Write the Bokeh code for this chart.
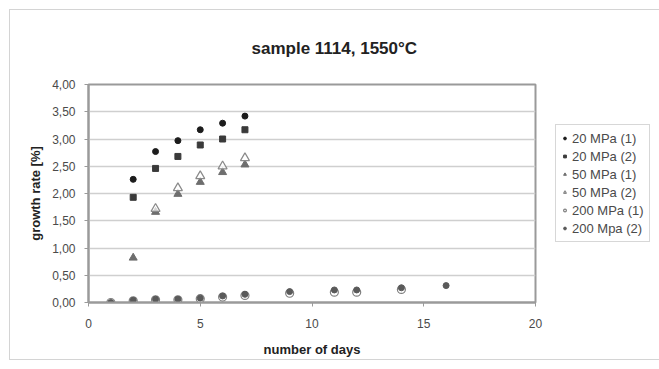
from bokeh.plotting import figure
from bokeh.models import Legend, LegendItem, FixedTicker, Title
from bokeh.embed import file_html
from bokeh.resources import INLINE

# ---- data ----
days_20_1 = [2, 3, 4, 5, 6, 7]
rate_20_1 = [2.26, 2.77, 2.97, 3.17, 3.29, 3.42]
days_20_2 = [2, 3, 4, 5, 6, 7]
rate_20_2 = [1.93, 2.46, 2.68, 2.89, 3.00, 3.17]
days_50_1 = [2, 3, 4, 5, 6, 7]
rate_50_1 = [0.82, 1.66, 1.99, 2.21, 2.39, 2.53]
days_50_2 = [3, 4, 5, 6, 7]
rate_50_2 = [1.72, 2.10, 2.32, 2.50, 2.65]
days_200_1 = [1, 2, 3, 4, 5, 6, 7, 9, 11, 12, 14]
rate_200_1 = [0.00, 0.03, 0.05, 0.05, 0.07, 0.10, 0.13, 0.17, 0.19, 0.19, 0.24]
days_200_2 = [1, 2, 3, 4, 5, 6, 7, 9, 11, 12, 14, 16]
rate_200_2 = [0.00, 0.04, 0.06, 0.06, 0.08, 0.12, 0.15, 0.20, 0.23, 0.23, 0.27, 0.31]

x_ticks = [0, 5, 10, 15, 20]
y_ticks = [0, 0.5, 1.0, 1.5, 2.0, 2.5, 3.0, 3.5, 4.0]
y_tick_labels = ["0,00", "0,50", "1,00", "1,50", "2,00", "2,50", "3,00", "3,50", "4,00"]
series_labels = ["20 MPa (1)", "20 MPa (2)", "50 MPa (1)", "50 MPa (2)", "200 MPa (1)", "200 Mpa (2)"]
title_text = "sample 1114, 1550°C"

FONT = "Liberation Sans"

p = figure(frame_width=447, frame_height=218, x_range=(0, 20), y_range=(0, 4),
           output_backend="svg", toolbar_location=None,
           min_border_left=78, min_border_top=74, min_border_right=120, min_border_bottom=57)
p.styles = {"border": "1px solid #d4d4d4", "margin-left": "9px", "margin-top": "9px"}

t = Title(text=title_text, align="left", offset=163, standoff=53, text_font=FONT,
          text_font_size="17px", text_font_style="bold", text_color="#222222")
p.add_layout(t, "above")

p.outline_line_color = "#9a9a9a"
p.outline_line_width = 2
p.xgrid.grid_line_color = None
p.ygrid.grid_line_color = "#cfcfcf"
p.ygrid.grid_line_width = 1.5

p.xaxis.ticker = FixedTicker(ticks=x_ticks)
p.yaxis.ticker = FixedTicker(ticks=y_ticks)
p.yaxis.major_label_overrides = {v: s for v, s in zip(y_ticks, y_tick_labels)}
p.xaxis.major_label_overrides = {v: str(v) for v in x_ticks}

for ax in (p.xaxis[0], p.yaxis[0]):
    ax.axis_line_color = "#9a9a9a"
    ax.axis_line_width = 2
    ax.major_tick_line_color = "#9a9a9a"
    ax.major_tick_in = 0
    ax.major_tick_out = 4
    ax.minor_tick_line_color = None
    ax.major_label_text_font = FONT
    ax.major_label_text_font_size = "12px"
    ax.major_label_text_color = "#4a4a4a"
    ax.axis_label_text_font = FONT
    ax.axis_label_text_font_size = "13px"
    ax.axis_label_text_font_style = "bold"
    ax.axis_label_text_color = "#222222"

p.xaxis.axis_label = "number of days"
p.yaxis.axis_label = "growth rate [%]"
p.xaxis.major_label_standoff = 12
p.xaxis.axis_label_standoff = 11
p.yaxis.major_label_standoff = 9
p.yaxis.axis_label_standoff = 6

r1 = p.scatter(days_20_1, rate_20_1, marker="circle", size=6, fill_color="#1c1c1c", line_color="#1c1c1c")
r2 = p.scatter(days_20_2, rate_20_2, marker="square", size=6, fill_color="#3a3a3a", line_color="#3a3a3a")
r3 = p.scatter(days_50_1, rate_50_1, marker="triangle", size=8, fill_color="#6e6e6e", line_color="#6e6e6e")
r4 = p.scatter(days_50_2, rate_50_2, marker="triangle", size=9, fill_color="white", fill_alpha=0.7,
               line_color="#8a8a8a", line_width=1.2)
r5 = p.scatter(days_200_1, rate_200_1, marker="circle", size=8, fill_color="white", fill_alpha=0.6,
               line_color="#808080", line_width=1.2)
r6 = p.scatter(days_200_2, rate_200_2, marker="circle", size=6, fill_color="#5a5a5a", line_color="#5a5a5a")

renderers = [r1, r2, r3, r4, r5, r6]
legend = Legend(items=[LegendItem(label=l, renderers=[r]) for l, r in zip(series_labels, renderers)],
                location=(20, 60), glyph_width=7, glyph_height=16, spacing=2,
                label_standoff=4, padding=5, margin=0,
                border_line_color="#b0b0b0", border_line_width=1,
                label_text_font=FONT, label_text_font_size="13px", label_text_color="#4a4a4a",
                background_fill_color="white")
p.add_layout(legend, "right")

open("out.html", "w").write(file_html(p, INLINE))
